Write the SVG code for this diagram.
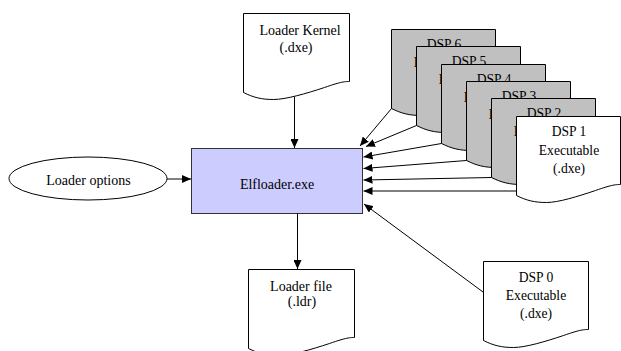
<svg xmlns="http://www.w3.org/2000/svg" xmlns:xlink="http://www.w3.org/1999/xlink" width="621" height="351" viewBox="0 0 621 351">
  <style>
    .doc { fill: #FFFFFF; stroke: #000000; stroke-width: 1; }
    .doc.back { fill: #C0C0C0; }
    .proc { fill: #CCCCFF; stroke: #333333; stroke-width: 1; }
    .term { fill: #FFFFFF; stroke: #000000; stroke-width: 1; }
    .lbl { font-size: 14px; fill: #000000; text-anchor: middle; }
    .dsp { font-size: 13.6px; }
    .conn { stroke: #000000; stroke-width: 1; fill: none; marker-end: url(#arrow); }
  </style>
  <defs>
    <marker id="arrow" viewBox="0 0 9 8" refX="9" refY="4" markerWidth="9" markerHeight="8" markerUnits="userSpaceOnUse" orient="auto">
      <path d="M0,0 L9,4 L0,8 z" fill="#000000"/>
    </marker>
    <!-- document shapes with a wavy bottom edge, in three widths -->
    <path id="doc106" d="M0,0 H106 V68 C102,68 98,68 81,74 C63,80 42,86 30,86 C18,86 10,84 0,79 Z"/>
    <path id="doc105" d="M0,0 H105 V68 C101,68 97,68 80,74 C62,80 42,86 30,86 C18,86 10,84 0,79 Z"/>
    <path id="doc104" d="M0,0 H104 V68 C100,68 96,68 79,74 C61,80 42,86 30,86 C18,86 10,84 0,79 Z"/>
  </defs>

  <g font-family="'Liberation Serif', 'DejaVu Serif', serif">
  <!-- Loader kernel -->
  <g id="loader-kernel">
    <use xlink:href="#doc106" class="doc" x="243.5" y="13.5"/>
    <text class="lbl" x="300" y="35" font-size="15">Loader Kernel</text>
    <text class="lbl" x="296" y="52">(.dxe)</text>
  </g>

  <!-- Loader options -->
  <g id="loader-options">
    <ellipse class="term" cx="88" cy="178.5" rx="79" ry="21.5"/>
    <text class="lbl" x="88.5" y="185">Loader options</text>
  </g>

  <!-- Elfloader process -->
  <g id="elfloader">
    <rect class="proc" x="191.5" y="148.5" width="171" height="65"/>
    <text class="lbl" x="277" y="189">Elfloader.exe</text>
  </g>

  <!-- Loader output file -->
  <g id="loader-file">
    <use xlink:href="#doc106" class="doc" x="248.5" y="269.5"/>
    <text class="lbl" x="301" y="291">Loader file</text>
    <text class="lbl" x="302" y="306">(.ldr)</text>
  </g>

  <!-- DSP 0 executable -->
  <g id="dsp0">
    <use xlink:href="#doc105" class="doc" x="483.5" y="261.5"/>
    <text class="lbl dsp" x="536" y="281.5">DSP 0</text>
    <text class="lbl dsp" x="536" y="299.5">Executable</text>
    <text class="lbl dsp" x="536" y="318">(.dxe)</text>
  </g>

  <!-- Stack of DSP 6 .. DSP 1 executables, back to front; each sheet covers most of the one behind -->
  <g id="dsp6">
    <use xlink:href="#doc104" class="doc back" x="391.5" y="29.5"/>
    <text class="lbl dsp" x="444" y="48.5">DSP 6</text>
    <text class="lbl dsp" x="444" y="67">Executable</text>
  </g>
  <g id="dsp5">
    <use xlink:href="#doc104" class="doc back" x="416.5" y="46.5"/>
    <text class="lbl dsp" x="469" y="65.5">DSP 5</text>
    <text class="lbl dsp" x="469" y="84">Executable</text>
  </g>
  <g id="dsp4">
    <use xlink:href="#doc104" class="doc back" x="441.5" y="64.5"/>
    <text class="lbl dsp" x="494" y="83.5">DSP 4</text>
    <text class="lbl dsp" x="494" y="102">Executable</text>
  </g>
  <g id="dsp3">
    <use xlink:href="#doc104" class="doc back" x="466.5" y="81.5"/>
    <text class="lbl dsp" x="519" y="100.5">DSP 3</text>
    <text class="lbl dsp" x="519" y="119">Executable</text>
  </g>
  <g id="dsp2">
    <use xlink:href="#doc104" class="doc back" x="491.5" y="98.5"/>
    <text class="lbl dsp" x="544" y="117.5">DSP 2</text>
    <text class="lbl dsp" x="544" y="136">Executable</text>
  </g>
  <g id="dsp1">
    <use xlink:href="#doc104" class="doc" x="516.5" y="116.5"/>
    <text class="lbl dsp" x="569" y="136">DSP 1</text>
    <text class="lbl dsp" x="569" y="154.5">Executable</text>
    <text class="lbl dsp" x="569" y="173">(.dxe)</text>
  </g>
  </g>

  <!-- Connectors -->
  <g id="connectors">
    <line class="conn" x1="294.5" y1="97" x2="294.5" y2="148"/>
    <line class="conn" x1="167" y1="179" x2="191" y2="179"/>
    <line class="conn" x1="297.5" y1="213.5" x2="297.5" y2="269"/>
    <line class="conn" x1="391.5" y1="108.5" x2="360" y2="146"/>
    <line class="conn" x1="416.5" y1="125.5" x2="366" y2="146.5"/>
    <line class="conn" x1="441.5" y1="143.5" x2="363.5" y2="157"/>
    <line class="conn" x1="466.5" y1="160.5" x2="363.5" y2="168.5"/>
    <line class="conn" x1="491.5" y1="177.5" x2="363.5" y2="180"/>
    <line class="conn" x1="516.5" y1="191" x2="363.5" y2="191"/>
    <line class="conn" x1="483" y1="292" x2="364" y2="204"/>
  </g>
</svg>
